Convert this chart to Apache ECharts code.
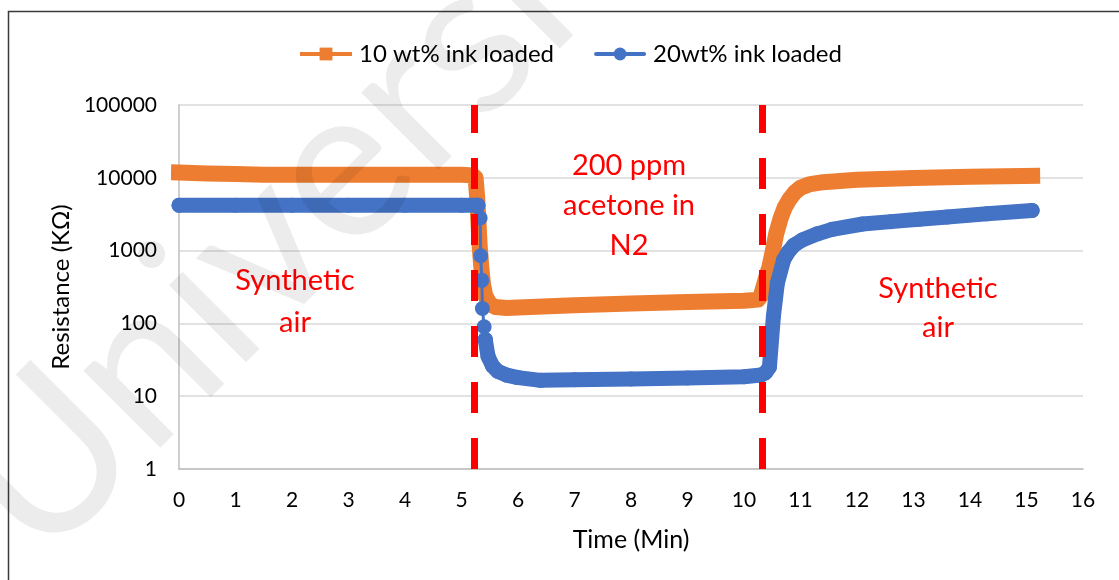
<!DOCTYPE html>
<html>
<head>
<meta charset="utf-8">
<title>Resistance response to acetone</title>
<script src="https://cdn.jsdelivr.net/npm/echarts@6/dist/echarts.min.js"></script>
<style>
  html, body { margin: 0; padding: 0; background: #ffffff; }
  #chart { width: 1119px; height: 580px; }
</style>
</head>
<body>
<div id="chart"></div>
<script>
// Sensor resistance (kΩ) over time (min), two ink loadings
const orangeTime  = [0, 0.5, 1, 1.5, 2, 3, 4, 5, 5.2, 5.25, 5.28, 5.3, 5.32, 5.35, 5.38, 5.42, 5.5, 5.6, 5.8, 6, 7, 8, 9, 10, 10.25, 10.3, 10.35, 10.4, 10.45, 10.5, 10.57, 10.65, 10.72, 10.8, 10.9, 11, 11.15, 11.4, 12, 13, 14, 15.1];
const orangeValue = [11800, 11500, 11300, 11000, 11000, 11000, 11000, 11000, 10800, 10000, 5000, 2500, 1200, 600, 350, 240, 185, 168, 163, 165, 178, 188, 197, 205, 212, 240, 330, 450, 600, 900, 1700, 2800, 3900, 5000, 6300, 7300, 8100, 8700, 9400, 9900, 10300, 10600];

const blueTime  = [0, 1, 2, 3, 4, 5, 5.29, 5.33, 5.34, 5.36, 5.37, 5.4, 5.42, 5.47, 5.55, 5.64, 5.8, 6, 6.4, 7, 8, 9, 10, 10.3, 10.38, 10.45, 10.52, 10.59, 10.7, 10.78, 10.88, 11.03, 11.3, 11.56, 12.1, 12.6, 13.1, 13.6, 14.3, 15.1];
const blueValue = [4200, 4200, 4200, 4200, 4200, 4200, 4200, 2800, 850, 390, 160, 90, 60, 35, 26, 22, 19.5, 18, 16.5, 16.8, 17.2, 17.8, 18.5, 19.5, 21, 25, 124, 355, 743, 950, 1180, 1400, 1700, 1960, 2320, 2500, 2700, 2900, 3200, 3550];

const seriesNames = ['10 wt% ink loaded', '20wt% ink loaded'];
const gasSwitchTimes = [5.22, 10.32];
const yTicks = [1, 10, 100, 1000, 10000, 100000];
const xTicks = [0, 1, 2, 3, 4, 5, 6, 7, 8, 9, 10, 11, 12, 13, 14, 15, 16];

// The fast blue drop is drawn as separate markers on a thin line
const BLUE_SPARSE_WINDOW = [5.3, 5.41];

const FONT = 'Lato, "Open Sans", sans-serif';
const ORANGE = '#ED7D31';
const BLUE = '#4472C4';
const RED = '#FF0000';

const zip = (xs, ys) => xs.map((x, i) => [x, ys[i]]);
const inWindow = t => t >= BLUE_SPARSE_WINDOW[0] && t <= BLUE_SPARSE_WINDOW[1];

const bluePairs = zip(blueTime, blueValue);
const blueBand = bluePairs.map(p => inWindow(p[0]) ? [p[0], '-'] : p);
const firstIn = blueTime.findIndex(inWindow);
let lastIn = firstIn;
while (lastIn + 1 < blueTime.length && inWindow(blueTime[lastIn + 1])) lastIn++;
const blueSparse = bluePairs.slice(Math.max(0, firstIn - 1), lastIn + 2);

const chart = echarts.init(document.getElementById('chart'), null, { renderer: 'canvas' });

chart.setOption({
  animation: false,
  backgroundColor: '#ffffff',
  textStyle: { fontFamily: FONT },
  grid: { left: 179, right: 36, top: 105, bottom: 111, containLabel: false },
  legend: {
    data: seriesNames,
    left: 295,
    top: 37,
    itemWidth: 48,
    itemHeight: 16,
    itemGap: 40,
    lineStyle: { width: 4 },
    textStyle: { fontFamily: FONT, fontSize: 24, color: '#000', padding: [0, 0, 0, 4] }
  },
  xAxis: {
    type: 'value',
    min: xTicks[0],
    max: xTicks[xTicks.length - 1],
    interval: 1,
    name: 'Time (Min)',
    nameLocation: 'middle',
    nameGap: 58,
    nameTextStyle: { fontFamily: FONT, fontSize: 25, color: '#000' },
    axisLine: { show: true, lineStyle: { color: '#bfbfbf', width: 1.5 } },
    axisTick: { show: false },
    splitLine: { show: false },
    axisLabel: { fontFamily: FONT, fontSize: 21, color: '#000', margin: 21 }
  },
  yAxis: {
    type: 'log',
    logBase: 10,
    min: yTicks[0],
    max: yTicks[yTicks.length - 1],
    name: 'Resistance (KΩ)',
    nameLocation: 'middle',
    nameGap: 104,
    nameTextStyle: { fontFamily: FONT, fontSize: 24, color: '#000' },
    axisLine: { show: true, lineStyle: { color: '#bfbfbf', width: 1.5 } },
    axisTick: { show: false },
    splitLine: { show: true, lineStyle: { color: '#d9d9d9', width: 1.5 } },
    axisLabel: {
      fontFamily: FONT, fontSize: 21, color: '#000', margin: 22,
      formatter: v => String(yTicks.find(t => Math.abs(t - v) / t < 1e-6) ?? '')
    }
  },
  series: [
    {
      name: seriesNames[0],
      type: 'line',
      data: zip(orangeTime, orangeValue),
      color: ORANGE,
      symbol: 'rect',
      symbolSize: 11,
      showSymbol: true,
      showAllSymbol: true,
      lineStyle: { color: ORANGE, width: 16, cap: 'square', join: 'round' },
      itemStyle: { color: ORANGE },
      z: 2,
      markLine: {
        silent: true,
        symbol: 'none',
        label: { show: false },
        lineStyle: { color: RED, width: 7, type: [31, 25] },
        data: gasSwitchTimes.map(t => ({ xAxis: t })),
        z: 10
      }
    },
    {
      name: seriesNames[1],
      type: 'line',
      data: blueBand,
      connectNulls: false,
      color: BLUE,
      symbol: 'circle',
      symbolSize: 15,
      showSymbol: true,
      showAllSymbol: true,
      lineStyle: { color: BLUE, width: 15, cap: 'round', join: 'round' },
      itemStyle: { color: BLUE },
      z: 3
    },
    {
      name: seriesNames[1],
      type: 'line',
      data: blueSparse,
      color: BLUE,
      symbol: 'circle',
      symbolSize: 15,
      showSymbol: true,
      showAllSymbol: true,
      lineStyle: { color: BLUE, width: 3, cap: 'round', join: 'round' },
      itemStyle: { color: BLUE },
      z: 3
    }
  ],
  graphic: [
    {
      type: 'rect',
      silent: true,
      shape: { x: 8.5, y: 11.5, width: 1200, height: 1000 },
      style: { fill: 'none', stroke: '#3a3a3a', lineWidth: 1.5 },
      z: 0
    },
    {
      type: 'text',
      silent: true,
      x: 295, y: 302,
      style: { text: 'Synthetic\nair', align: 'center', verticalAlign: 'middle', fontFamily: FONT, fontSize: 29, lineHeight: 42, fill: RED },
      z: 20
    },
    {
      type: 'text',
      silent: true,
      x: 629, y: 206,
      style: { text: '200 ppm\nacetone in\nN2', align: 'center', verticalAlign: 'middle', fontFamily: FONT, fontSize: 29, lineHeight: 40, fill: RED },
      z: 20
    },
    {
      type: 'text',
      silent: true,
      x: 938, y: 308,
      style: { text: 'Synthetic\nair', align: 'center', verticalAlign: 'middle', fontFamily: FONT, fontSize: 29, lineHeight: 39, fill: RED },
      z: 20
    },
    {
      type: 'text',
      silent: true,
      x: -85, y: 443,
      rotation: Math.PI / 4,
      style: { text: 'University', align: 'left', verticalAlign: 'alphabetic', fontFamily: FONT, fontSize: 215, fill: 'rgba(0,0,0,0.075)' },
      z: 100
    }
  ]
});
</script>
</body>
</html>
